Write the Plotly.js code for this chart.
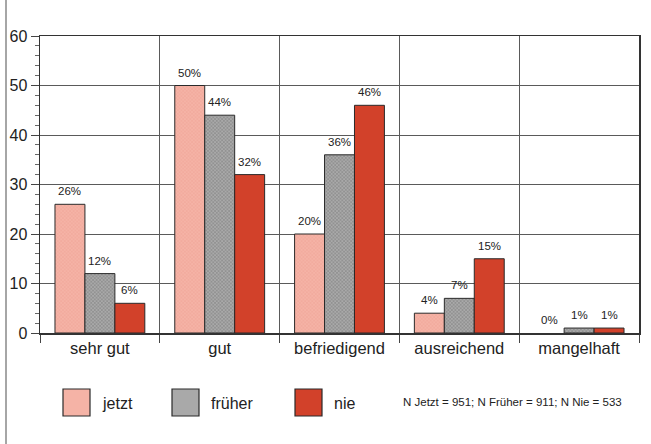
<!DOCTYPE html>
<html>
<head>
<meta charset="utf-8">
<script src="https://cdn.plot.ly/plotly-3.0.1.min.js"></script>
<style>html,body{margin:0;padding:0;background:#fff;}#chart{width:651px;height:444px;}</style>
</head>
<body>
<div id="chart"></div>
<script>
const categories = ["sehr gut", "gut", "befriedigend", "ausreichend", "mangelhaft"];
const seriesNames = ["jetzt", "früher", "nie"];
const jetzt = [26, 50, 20, 4, 0];
const frueher = [12, 44, 36, 7, 1];
const nie = [6, 32, 46, 15, 1];
const yTicks = [0, 10, 20, 30, 40, 50, 60];
const noteText = "N Jetzt = 951; N Früher = 911; N Nie = 533";

const seriesValues = [jetzt, frueher, nie];
const baseColors = ["#f5b3a6", "#a9a9a9", "#d2412a"];
const patColors = ["#eea294", "#777777", "#c23820"];
const FONT = "Liberation Sans, Arial, Helvetica, sans-serif";

const traces = seriesValues.map((vals, j) => ({
  type: "bar",
  name: seriesNames[j],
  x: categories,
  y: vals,
  marker: {
    color: baseColors[j],
    line: {color: "#2a2a2a", width: vals.map(v => v > 0 ? 1 : 0)},
    pattern: {shape: j === 2 ? "" : "x", size: 2.5, solidity: 0.3, fgcolor: patColors[j], bgcolor: baseColors[j], fillmode: "replace"}
  },
  showlegend: false,
  hoverinfo: "skip"
}));

const annotations = [];
seriesValues.forEach((vals, j) => {
  vals.forEach((v, i) => {
    annotations.push({
      x: i + (j - 1) * 0.25, y: v, xref: "x", yref: "y",
      text: v + "%", showarrow: false, yanchor: "bottom", yshift: 5,
      font: {family: FONT, size: 11.5, color: "#222"}
    });
  });
});

// custom legend
const plotL = 40, plotW = 599, plotB = 333, plotH = 297;
const px2x = p => (p - plotL) / plotW;
const px2y = p => (plotB - p) / plotH;
const boxLeft = [63, 172, 295];
const shapes = [];
seriesNames.forEach((n, j) => {
  shapes.push({
    type: "rect", xref: "paper", yref: "paper",
    x0: px2x(boxLeft[j]), x1: px2x(boxLeft[j] + 27),
    y0: px2y(416), y1: px2y(389),
    fillcolor: baseColors[j], line: {color: "#2a2a2a", width: 1.2}
  });
  annotations.push({
    xref: "paper", yref: "paper", x: px2x(boxLeft[j] + 37), y: px2y(403),
    xanchor: "left", yanchor: "middle", showarrow: false, text: n,
    font: {family: FONT, size: 16, color: "#222"}
  });
});
annotations.push({
  xref: "paper", yref: "paper", x: px2x(401), y: px2y(402),
  xanchor: "left", yanchor: "middle", showarrow: false, text: noteText,
  font: {family: FONT, size: 11.5, color: "#222"}
});
// page border line on the left
shapes.push({
  type: "line", xref: "paper", yref: "paper",
  x0: px2x(6), x1: px2x(6), y0: px2y(444), y1: px2y(0),
  line: {color: "#888", width: 1.5}
});

const layout = {
  width: 651, height: 444,
  margin: {l: 40, r: 12, t: 36, b: 111},
  paper_bgcolor: "#fff", plot_bgcolor: "#fff",
  barmode: "group", bargap: 0.25, bargroupgap: 0,
  font: {family: FONT, color: "#222"},
  xaxis: {
    type: "category", tickson: "boundaries", ticks: "outside", ticklen: 8,
    tickcolor: "#444", showgrid: true, gridcolor: "#5a5a5a", gridwidth: 1,
    showline: true, linecolor: "#333", linewidth: 1.5, mirror: true,
    tickfont: {family: FONT, size: 16.5, color: "#222"}, range: [-0.5, 4.5], fixedrange: true
  },
  yaxis: {
    range: [0, 60], tickvals: yTicks, ticks: "outside", ticklen: 8, tickcolor: "#444",
    showgrid: true, gridcolor: "#5a5a5a", gridwidth: 1, zeroline: false,
    showline: true, linecolor: "#333", linewidth: 1.5, mirror: true,
    tickfont: {family: FONT, size: 16, color: "#222"},
    minor: {dtick: 2, ticks: "outside", ticklen: 4, tickcolor: "#666", showgrid: false}
  },
  annotations: annotations,
  shapes: shapes
};

Plotly.newPlot("chart", traces, layout, {displayModeBar: false, staticPlot: true});
</script>
</body>
</html>
